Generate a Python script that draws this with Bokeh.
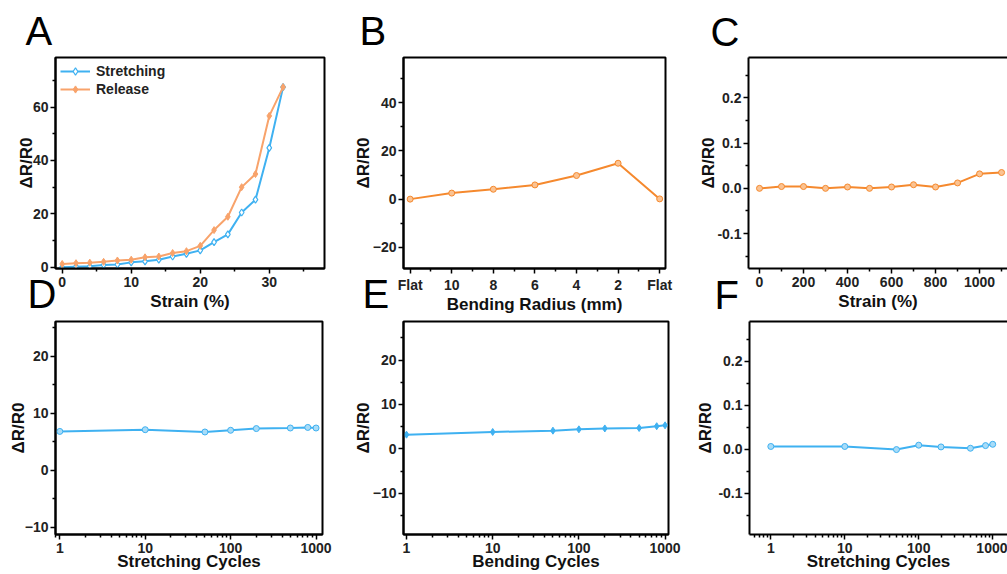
from bokeh.plotting import figure
from bokeh.layouts import column, row
from bokeh.models import Range1d, FixedTicker, PrintfTickFormatter, LinearAxis, LogAxis, Title
from bokeh.embed import file_html
from bokeh.resources import INLINE

# ---------------- data ----------------
a_strain = [0, 2, 4, 6, 8, 10, 12, 14, 16, 18, 20, 22, 24, 26, 28, 30, 32]
a_stretching = [0.0, 0.2, 0.3, 0.8, 1.0, 1.8, 2.2, 2.8, 4.0, 5.0, 6.3, 9.4, 12.3, 20.5, 25.3, 44.7, 67.5]
a_release = [1.2, 1.5, 1.7, 2.0, 2.5, 2.8, 3.7, 4.0, 5.3, 6.0, 8.0, 13.9, 18.9, 30.0, 34.9, 56.7, 67.5]
a_xticks = [0, 10, 20, 30]
a_yticks = [0, 20, 40, 60]

b_radius = ["Flat", "10", "8", "6", "4", "2", "Flat"]
b_resp = [0.0, 2.5, 4.1, 5.9, 9.8, 14.9, 0.1]
b_yticks = [-20, 0, 20, 40]

c_strain = [0, 100, 200, 300, 400, 500, 600, 700, 800, 900, 1000, 1100]
c_resp = [0.0, 0.004, 0.004, 0.0, 0.003, 0.0, 0.003, 0.008, 0.003, 0.012, 0.032, 0.035]
c_xticks = [0, 200, 400, 600, 800, 1000]
c_yticks = [-0.1, 0.0, 0.1, 0.2]

cycles = [1, 10, 50, 100, 200, 500, 800, 1000]
log_ticks = [1, 10, 100, 1000]
d_resp = [6.8, 7.1, 6.7, 7.0, 7.3, 7.4, 7.5, 7.4]
d_yticks = [-10, 0, 10, 20]
e_resp = [3.2, 3.8, 4.1, 4.4, 4.6, 4.7, 5.1, 5.3]
e_yticks = [-10, 0, 10, 20]
f_resp = [0.006, 0.006, -0.001, 0.009, 0.005, 0.002, 0.008, 0.011]
f_yticks = [-0.1, 0.0, 0.1, 0.2]

panel_letters = ["A", "B", "C", "D", "E", "F"]

# ---------------- styles ----------------
FONT = "Liberation Sans"
BLUE = "#3FB1F1"
BLUE_LIGHT = "#A8DCF8"
ORANGE_A = "#F8A36B"
ORANGE = "#F5892E"
ORANGE_LIGHT = "#FBC392"

log_minor = [m * 10 ** k for k in range(-1, 4) for m in range(2, 10)]


def make_fig(w, h, xr, yr, left, right, top, bottom, x_type="linear", outline=True,
             transparent=False):
    p = figure(width=w, height=h, x_range=xr, y_range=yr, x_axis_type=x_type,
               output_backend="svg", toolbar_location=None,
               min_border_left=left, min_border_right=right,
               min_border_top=top, min_border_bottom=bottom)
    p.grid.visible = False
    p.background_fill_color = "white"
    if transparent:
        p.border_fill_color = None
        p.border_fill_alpha = 0
    else:
        p.border_fill_color = "white"
    if outline:
        p.outline_line_color = "black"
        p.outline_line_width = 2
        p.outline_line_alpha = 1
    else:
        p.outline_line_color = None
    return p


def style_axis(ax, title, ticks, minor, title_standoff=0, label_standoff=2):
    ax.ticker = FixedTicker(ticks=ticks, minor_ticks=minor)
    ax.axis_label = title
    ax.axis_label_text_font = FONT
    ax.axis_label_text_font_style = "bold"
    ax.axis_label_text_font_size = "17px"
    ax.axis_label_text_color = "#111111"
    ax.axis_label_standoff = title_standoff
    ax.major_label_text_font = FONT
    ax.major_label_text_font_style = "bold"
    ax.major_label_text_font_size = "14px"
    ax.major_label_text_color = "#222222"
    ax.major_label_standoff = label_standoff
    ax.axis_line_width = 2
    ax.axis_line_color = "black"
    ax.major_tick_out = 5
    ax.major_tick_in = 0
    ax.minor_tick_out = 3
    ax.minor_tick_in = 0
    ax.major_tick_line_width = 1.5
    ax.minor_tick_line_width = 1.5
    ax.major_tick_line_color = "black"
    ax.minor_tick_line_color = "black"


def top_line(p, log=False):
    ax = LogAxis() if log else LinearAxis()
    ax.ticker = FixedTicker(ticks=[])
    ax.major_label_text_font_size = "0px"
    ax.major_tick_line_color = None
    ax.minor_tick_line_color = None
    ax.axis_line_width = 2
    ax.axis_line_color = "black"
    ax.major_label_standoff = 0
    p.add_layout(ax, "above")


def letter(p, txt, offset, standoff):
    p.add_layout(Title(text=txt, align="left", offset=offset, standoff=standoff,
                       text_font=FONT, text_font_size="40px", text_font_style="normal",
                       text_color="black"), "above")


YT = "\u0394R/R0"
XS_TOP = 2    # x-axis title standoff, top row
XS_BOT = -4   # x-axis title standoff, bottom row
TOP_H = 330
BOT_START = 262  # canvas top of the bottom row (overlaps the top row's margin)
BOT_H = 574 - BOT_START

# ---------------- A ----------------
pa = make_fig(337, TOP_H, Range1d(-0.97, 38.0), Range1d(-0.5, 78.6), 55, 13, 55, TOP_H - 269)
pa.line(a_strain, a_stretching, line_color=BLUE, line_width=2, legend_label="Stretching")
pa.scatter(a_strain, a_stretching, marker="diamond", size=7, line_color=BLUE,
           fill_color="white", line_width=1.2, legend_label="Stretching")
pa.line(a_strain, a_release, line_color=ORANGE_A, line_width=2, legend_label="Release")
pa.scatter(a_strain, a_release, marker="diamond", size=7, line_color=ORANGE_A,
           fill_color=ORANGE_A, legend_label="Release")
style_axis(pa.xaxis[0], "Strain (%)", a_xticks, [5, 15, 25, 35], XS_TOP, 3)
style_axis(pa.yaxis[0], YT, a_yticks, [10, 30, 50, 70], -6)
lg = pa.legend[0]
lg.location = "top_left"
lg.margin = 5
lg.padding = 6
lg.spacing = 0
lg.label_height = 18
lg.glyph_height = 18
lg.glyph_width = 30
lg.label_standoff = 6
lg.border_line_color = None
lg.background_fill_alpha = 0
lg.label_text_font = FONT
lg.label_text_font_style = "bold"
lg.label_text_font_size = "14px"
lg.label_text_color = "#222222"
letter(pa, panel_letters[0], -30, 9)

# ---------------- B ----------------
b_x = list(range(len(b_radius)))
pb = make_fig(345, TOP_H, Range1d(-0.16, 6.14), Range1d(-28.8, 58.8), 66, 17, 57, TOP_H - 269)
pb.line(b_x, b_resp, line_color=ORANGE, line_width=2)
pb.scatter(b_x, b_resp, marker="circle", size=6, line_color=ORANGE, fill_color=ORANGE_LIGHT)
style_axis(pb.xaxis[0], "Bending Radius (mm)", b_x, [i + 0.5 for i in b_x[:-1]], XS_TOP - 3, 3)
pb.xaxis[0].major_label_overrides = {i: lab for i, lab in zip(b_x, b_radius)}
style_axis(pb.yaxis[0], YT, b_yticks, [-10, 10, 30, 50], -3)
letter(pb, panel_letters[1], -44, 10)

# ---------------- C ----------------
pc = make_fig(325, TOP_H, Range1d(-50, 1127), Range1d(-0.177, 0.289), 66, 0, 57, TOP_H - 268,
              outline=False)
pc.line(c_strain, c_resp, line_color=ORANGE, line_width=2)
pc.scatter(c_strain, c_resp, marker="circle", size=6, line_color=ORANGE, fill_color=ORANGE_LIGHT)
style_axis(pc.xaxis[0], "Strain (%)", c_xticks, [100, 300, 500, 700, 900, 1100], XS_TOP, 3)
style_axis(pc.yaxis[0], YT, c_yticks, [-0.15, -0.05, 0.05, 0.15, 0.25], -4)
pc.yaxis[0].formatter = PrintfTickFormatter(format="%.1f")
top_line(pc)
letter(pc, panel_letters[2], -38, 8)

# ---------------- D ----------------
pd_ = make_fig(337, BOT_H, Range1d(0.89, 1190), Range1d(-11.3, 26.1), 55, 15, 320 - BOT_START, 39,
               x_type="log", transparent=True)
pd_.line(cycles, d_resp, line_color=BLUE, line_width=2)
pd_.scatter(cycles, d_resp, marker="circle", size=6, line_color=BLUE, fill_color=BLUE_LIGHT)
style_axis(pd_.xaxis[0], "Stretching Cycles", log_ticks, log_minor, XS_BOT, 3)
pd_.xaxis[0].formatter = PrintfTickFormatter(format="%d")
style_axis(pd_.yaxis[0], YT, d_yticks, [-5, 5, 15, 25], -6)
letter(pd_, panel_letters[3], -28, 11)

# ---------------- E ----------------
pe = make_fig(345, BOT_H, Range1d(0.923, 1096), Range1d(-19.3, 28.7), 66, 14, 321 - BOT_START, 40,
              x_type="log", transparent=True)
pe.line(cycles, e_resp, line_color=BLUE, line_width=2)
pe.scatter(cycles, e_resp, marker="diamond", size=7, line_color=BLUE, fill_color=BLUE)
style_axis(pe.xaxis[0], "Bending Cycles", log_ticks, log_minor, XS_BOT, 3)
pe.xaxis[0].formatter = PrintfTickFormatter(format="%d")
style_axis(pe.yaxis[0], YT, e_yticks, [-15, -5, 5, 15, 25], -3)
letter(pe, panel_letters[4], -41, 12)

# ---------------- F ----------------
pf = make_fig(325, BOT_H, Range1d(0.515, 1585), Range1d(-0.194, 0.29), 67, 0, 320 - BOT_START, 39,
              x_type="log", outline=False, transparent=True)
pf.line(cycles, f_resp, line_color=BLUE, line_width=2)
pf.scatter(cycles, f_resp, marker="circle", size=6, line_color=BLUE, fill_color=BLUE_LIGHT)
style_axis(pf.xaxis[0], "Stretching Cycles", log_ticks, log_minor, XS_BOT, 3)
pf.xaxis[0].formatter = PrintfTickFormatter(format="%d")
style_axis(pf.yaxis[0], YT, f_yticks, [-0.15, -0.05, 0.05, 0.15, 0.25], 0)
pf.yaxis[0].formatter = PrintfTickFormatter(format="%.1f")
top_line(pf, log=True)
letter(pf, panel_letters[5], -35, 10)

top_row = row(pa, pb, pc, spacing=0)
bottom_row = row(pd_, pe, pf, spacing=0, margin=(BOT_START - TOP_H, 0, 0, 0))
layout = column(top_row, bottom_row, spacing=0)

open("out.html", "w").write(file_html(layout, INLINE))
